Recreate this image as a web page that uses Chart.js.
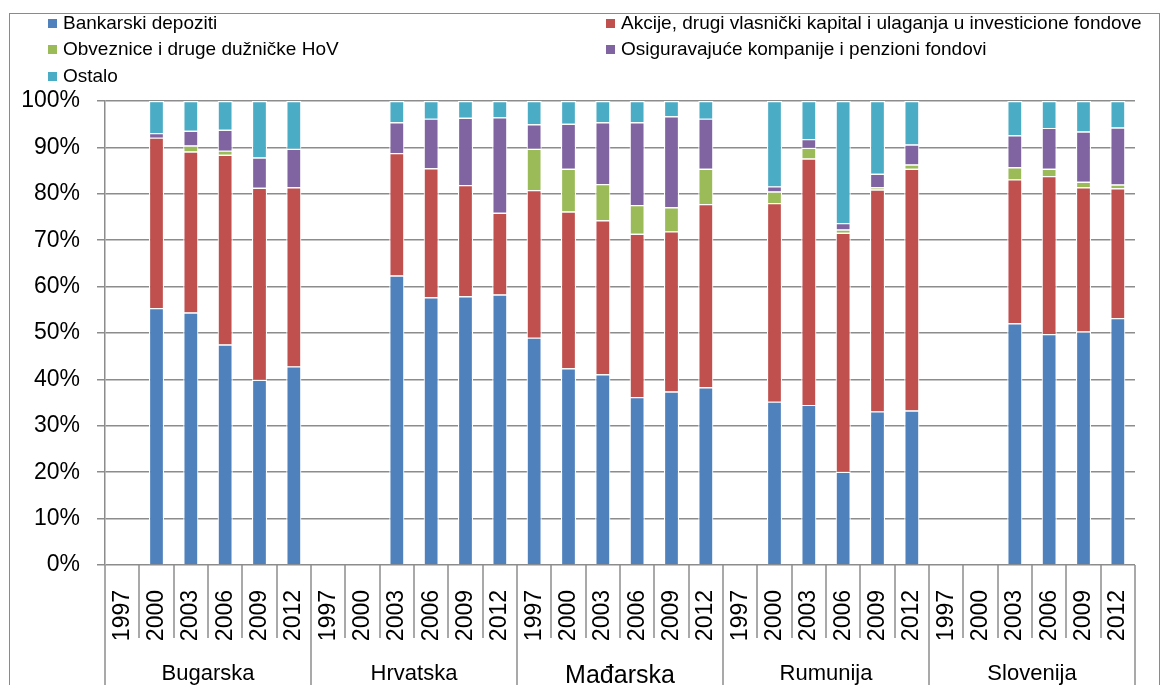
<!DOCTYPE html>
<html>
<head>
<meta charset="utf-8">
<script src="https://cdn.jsdelivr.net/npm/chart.js@4/dist/chart.umd.min.js"></script>
<style>
  html, body { margin: 0; padding: 0; background: #fff; overflow: hidden; }
  #wrap { position: relative; width: 1164px; height: 685px; }
  #frame { position: absolute; left: 9px; top: 13px; width: 1151px; height: 720px; border: 1.5px solid #8a8a8a; box-sizing: border-box; }
  canvas { position: absolute; left: 0; top: 0; }
  .lg { position: absolute; font-family: "Liberation Sans", Arial, sans-serif; font-size: 19px; color: #000; white-space: nowrap; line-height: 22px; }
  .lg i { display: inline-block; width: 9px; height: 9px; margin-right: 6px; vertical-align: 1px; }
</style>
</head>
<body>
<div id="wrap">
  <div id="frame"></div>
  <canvas id="c" width="1164" height="685"></canvas>
  <div id="legend"></div>
</div>
<script>
const countries = ["Bugarska", "Hrvatska", "Mađarska", "Rumunija", "Slovenija"];
const years = ["1997", "2000", "2003", "2006", "2009", "2012"];
const seriesNames = [
  "Bankarski depoziti",
  "Akcije, drugi vlasnički kapital i ulaganja u investicione fondove",
  "Obveznice i druge dužničke HoV",
  "Osiguravajuće kompanije i penzioni fondovi",
  "Ostalo"
];
const seriesColors = ["#4F81BD", "#C0504D", "#9BBB59", "#8064A2", "#4BACC6"];

// values in %, per country x year (1997..2012); null = no data
const bankarski = [
  null, 55.4, 54.4, 47.5, 39.9, 42.8,
  null, null, 62.4, 57.7, 57.9, 58.3,
  49.0, 42.4, 41.1, 36.2, 37.4, 38.3,
  null, 35.2, 34.5, 20.1, 33.1, 33.3,
  null, null, 52.1, 49.8, 50.3, 53.2
];
const akcije = [
  null, 36.7, 34.7, 40.9, 41.4, 38.6,
  null, null, 26.4, 27.8, 24.0, 17.6,
  31.8, 33.8, 33.2, 35.2, 34.5, 39.5,
  null, 42.8, 53.1, 51.5, 47.8, 52.1,
  null, null, 31.0, 34.0, 31.1, 28.0
];
const obveznice = [
  null, 0, 1.3, 0.9, 0, 0,
  null, null, 0, 0, 0, 0,
  8.9, 9.2, 7.8, 6.2, 5.2, 7.6,
  null, 2.5, 2.3, 0.7, 0.5, 0.9,
  null, null, 2.6, 1.6, 1.2, 0.8
];
const osiguranje = [
  null, 1.0, 3.2, 4.5, 6.5, 8.3,
  null, null, 6.6, 10.7, 14.5, 20.6,
  5.3, 9.7, 13.3, 17.8, 19.6, 10.8,
  null, 1.1, 1.9, 1.4, 2.9, 4.3,
  null, null, 6.9, 8.8, 10.8, 12.3
];
const ostalo = [
  null, 6.9, 6.4, 6.2, 12.2, 10.3,
  null, null, 4.6, 3.8, 3.6, 3.5,
  5.0, 4.9, 4.6, 4.6, 3.3, 3.8,
  null, 18.4, 8.2, 26.3, 15.7, 9.4,
  null, null, 7.4, 5.8, 6.6, 5.7
];
const yTicks = ["0%", "10%", "20%", "30%", "40%", "50%", "60%", "70%", "80%", "90%", "100%"];

const labels = [];
countries.forEach(() => years.forEach(y => labels.push(y)));
const allSeries = [bankarski, akcije, obveznice, osiguranje, ostalo];

// HTML legend
const legendPos = [[48, 12], [606, 12], [48, 38], [606, 38], [48, 65]];
const lg = document.getElementById('legend');
seriesNames.forEach((n, i) => {
  const d = document.createElement('div');
  d.className = 'lg';
  d.style.left = legendPos[i][0] + 'px';
  d.style.top = legendPos[i][1] + 'px';
  d.innerHTML = '<i style="background:' + seriesColors[i] + '"></i>' + n;
  lg.appendChild(d);
});

const gridColor = '#8c8c8c';
const FONT = '"Liberation Sans", Arial, sans-serif';

const separators = {
  id: 'separators',
  afterDraw(chart) {
    const xs = chart.scales.x;
    const n = labels.length;
    const w = (xs.right - xs.left) / n;
    const ctx = chart.ctx;
    ctx.save();
    ctx.strokeStyle = gridColor;
    ctx.lineWidth = 1.5;
    for (let i = 0; i <= n; i++) {
      const x = Math.round(xs.left + i * w);
      const y1 = (i % years.length === 0) ? chart.height : xs.bottom - 12;
      ctx.beginPath();
      ctx.moveTo(x, xs.top);
      ctx.lineTo(x, y1);
      ctx.stroke();
    }
    ctx.restore();
  }
};

new Chart(document.getElementById('c'), {
  type: 'bar',
  data: {
    labels: labels,
    datasets: allSeries.map((d, i) => ({
      label: seriesNames[i],
      data: d,
      backgroundColor: seriesColors[i],
      borderColor: '#ffffff',
      borderWidth: 1.2,
      barPercentage: 0.44,
      categoryPercentage: 1.0
    }))
  },
  options: {
    responsive: false,
    animation: false,
    devicePixelRatio: 1,
    layout: { padding: { left: 0, top: 101, right: 29, bottom: 0 } },
    plugins: { legend: { display: false }, tooltip: { enabled: false } },
    scales: {
      x: {
        stacked: true,
        weight: 0,
        grid: { display: false },
        border: { display: false },
        ticks: {
          autoSkip: false, minRotation: 90, maxRotation: 90, padding: 17,
          color: '#000', font: { family: FONT, size: 23 }
        },
        afterFit(s) { s.height = 85; }
      },
      x2: {
        type: 'category',
        labels: countries,
        position: 'bottom',
        offset: true,
        weight: 1,
        grid: { display: false },
        border: { display: false },
        ticks: {
          padding: 3,
          color: '#000',
          font: (ctx) => ctx.index === 2 ? { family: FONT, size: 25 } : { family: FONT, size: 22 }
        },
        afterFit(s) { s.height = 35; }
      },
      y: {
        stacked: true,
        min: 0, max: 100,
        ticks: {
          stepSize: 10, padding: 17, color: '#000',
          font: { family: FONT, size: 23 },
          callback: (v, i) => yTicks[i]
        },
        grid: { color: gridColor, lineWidth: 1.5, tickLength: 8 },
        border: { display: true, color: gridColor, width: 1.5 },
        afterFit(s) { s.width = 105; }
      }
    }
  },
  plugins: [separators]
});
</script>
</body>
</html>
